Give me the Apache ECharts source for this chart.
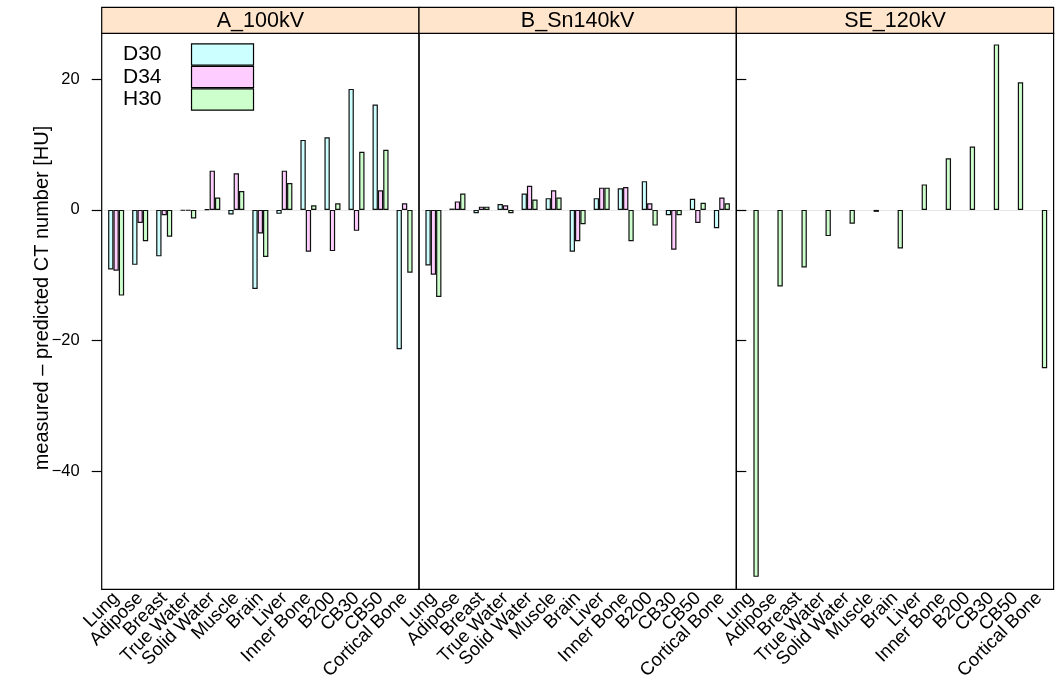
<!DOCTYPE html>
<html><head><meta charset="utf-8">
<script src="https://cdn.jsdelivr.net/npm/echarts@6/dist/echarts.min.js"></script>
<style>html,body{margin:0;padding:0;background:#fff}#c{width:1055px;height:686px}</style>
</head><body><div id="c"></div>
<script>
const categories = ['Lung','Adipose','Breast','True Water','Solid Water','Muscle','Brain','Liver','Inner Bone','B200','CB30','CB50','Cortical Bone'];
const panels = ['A_100kV','B_Sn140kV','SE_120kV'];
const seriesNames = ['D30','D34','H30'];
const seriesColors = ['#CCFFFF','#FFCCFF','#CCFFCC'];
const A_D30 = [-9.1,-8.4,-7.1,-0.1,0.1,-0.7,-12.1,-0.6,10.7,11.1,18.5,16.1,-21.3];
const A_D34 = [-9.3,-2.0,-0.8,-0.1,6.0,5.6,-3.6,6.0,-6.4,-6.3,-3.2,3.0,1.0];
const A_H30 = [-13.1,-4.8,-4.1,-1.3,1.9,2.9,-7.2,4.1,0.7,1.0,8.9,9.2,-9.6];
const B_D30 = [-8.5,0.2,-0.5,0.9,2.5,1.8,-6.4,1.8,3.3,4.4,-0.8,1.7,-2.8];
const B_D34 = [-9.9,1.3,0.5,0.7,3.7,3.0,-4.8,3.4,3.5,1.0,-6.1,-2.0,1.9];
const B_H30 = [-13.3,2.5,0.5,-0.5,1.6,1.9,-2.2,3.4,-4.8,-2.4,-0.8,1.1,1.0];
const SE_D30 = [null,null,null,null,null,null,null,null,null,null,null,null,null];
const SE_D34 = [null,null,null,null,null,null,null,null,null,null,null,null,null];
const SE_H30 = [-56.1,-11.7,-8.8,-4.0,-2.1,-0.3,-5.9,3.9,7.9,9.7,25.3,19.5,-24.2];
const yTicks = [-40,-20,0,20];
const yMin = -58, yMax = 27;

const panelData = [[A_D30,A_D34,A_H30],[B_D30,B_D34,B_H30],[SE_D30,SE_D34,SE_H30]];

const FONT = '"Liberation Sans", Arial, Helvetica, sans-serif';
const P0 = 101.7, PW = 317.3, TOP = 33.3, H = 556, STRIP_TOP = 7.3, STRIP_H = 26;
const unit = PW / 13.2;

const grid = [], xAxis = [], yAxis = [], series = [], graphic = [];
const fmt = v => String(v).replace('-', '\u2212');
for (let p = 0; p < 3; p++) {
  const L = P0 + p * PW;
  grid.push({left: L, top: TOP, width: PW, height: H, show: true, borderColor: '#000', borderWidth: 1.2, backgroundColor: 'transparent', containLabel: false});
  xAxis.push({type: 'value', gridIndex: 2*p, min: 0, max: 1, show: false});
  yAxis.push({
    type: 'value', gridIndex: 2*p, min: yMin, max: yMax,
    position: p === 2 ? 'right' : 'left',
    axisLine: {show: false},
    splitLine: {show: false},
    axisTick: {show: p !== 1, length: 10, customValues: yTicks, lineStyle: {color: '#000', width: 1.2}},
    axisLabel: {show: p === 0, customValues: yTicks, formatter: fmt, color: '#000', fontSize: 16.5, fontFamily: FONT, margin: 22}
  });
  grid.push({left: L + 0.1 * unit, top: TOP, width: 13 * unit, height: H, show: false, containLabel: false});
  xAxis.push({
    type: 'category', gridIndex: 2*p+1, data: categories,
    axisLine: {show: false}, axisTick: {show: false}, splitLine: {show: false},
    axisLabel: {interval: 0, rotate: 45, color: '#000', fontSize: 18.5, fontFamily: FONT, margin: 6}
  });
  yAxis.push({type: 'value', gridIndex: 2*p+1, min: yMin, max: yMax, show: false, splitLine: {show: false}});
  for (let s = 0; s < 3; s++) {
    const ser = {
      type: 'bar', name: seriesNames[s], xAxisIndex: 2*p+1, yAxisIndex: 2*p+1,
      data: panelData[p][s], barGap: '0%', barCategoryGap: '33.33%',
      itemStyle: {color: seriesColors[s], borderColor: '#111', borderWidth: 1.2},
      emphasis: {disabled: true}
    };
    if (s === 0) {
      ser.markLine = {silent: true, symbol: ['none','none'], label: {show: false}, z: 0,
        lineStyle: {color: '#e6e6e6', type: 'solid', width: 1}, data: [{yAxis: 0}]};
    }
    series.push(ser);
  }
  graphic.push({type: 'rect', shape: {x: L, y: STRIP_TOP, width: PW, height: STRIP_H},
    style: {fill: '#FFE5CC', stroke: '#000', lineWidth: 1.2}, z: 10});
  graphic.push({type: 'text', x: L + PW/2, y: STRIP_TOP + STRIP_H/2 + 1, z: 11,
    style: {text: panels[p], fontSize: 21.5, fontFamily: FONT, fill: '#000', textAlign: 'center', textVerticalAlign: 'middle'}});
}
graphic.push({type: 'text', x: 42, y: 298, rotation: Math.PI/2,
  style: {text: 'measured \u2013 predicted CT number [HU]', fontSize: 20, fontFamily: FONT, fill: '#000', textAlign: 'center', textVerticalAlign: 'middle'}});

const option = {
  animation: false,
  backgroundColor: '#fff',
  grid, xAxis, yAxis, series, graphic,
  legend: {
    data: seriesNames, orient: 'vertical', left: 123, top: 43.3, padding: 0,
    itemWidth: 62, itemHeight: 21.3, itemGap: 0, align: 'right', icon: 'rect',
    selectedMode: false,
    itemStyle: {borderColor: '#000', borderWidth: 1.2},
    textStyle: {fontSize: 21, fontFamily: FONT, color: '#000', padding: [0, 25, 0, 0], lineHeight: 21}
  }
};
const chart = echarts.init(document.getElementById('c'), null, {renderer: 'canvas'});
chart.setOption(option);
</script></body></html>
